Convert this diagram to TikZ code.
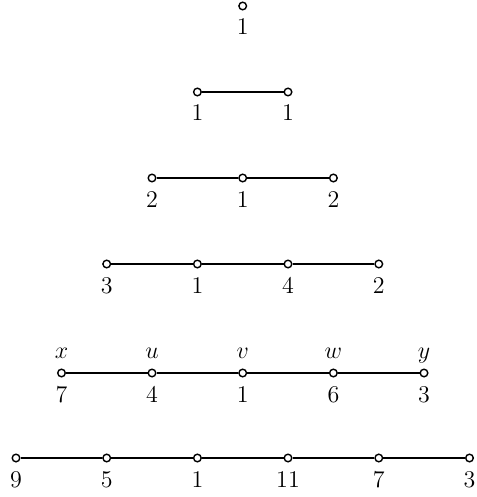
\documentclass[tikz,border=0pt]{standalone}
\begin{document}
\begin{tikzpicture}[x=0.5pt,y=-0.5pt,
  vtx/.style={circle,draw,line width=0.7pt,fill=white,inner sep=0pt,minimum size=3.8pt},
  edge/.style={line width=0.7pt},
  lab/.style={anchor=base,inner sep=0pt,font=\fontsize{12}{14}\selectfont}]
\useasboundingbox (0,0) rectangle (476,497);
% row coordinates
\def\ya{6}\def\yb{92}\def\yc{178}\def\yd{264}\def\ye{373}\def\yf{458}
% row 1
\node[vtx] (a1) at (242.7,\ya) {};
\node[lab] (la1) at (242.7,\ya+29) {1};
% row 2
\node[vtx] (b1) at (197.4,\yb) {};
\node[vtx] (b2) at (288.0,\yb) {};
\draw[edge] (b1) -- (b2);
\node[lab] (lb1) at (197.4,\yb+29) {1};
\node[lab] (lb2) at (288.0,\yb+29) {1};
% row 3
\node[vtx] (c1) at (152.0,\yc) {};
\node[vtx] (c2) at (242.7,\yc) {};
\node[vtx] (c3) at (333.4,\yc) {};
\draw[edge] (c1) -- (c2) -- (c3);
\node[lab] (lc1) at (152.0,\yc+29) {2};
\node[lab] (lc2) at (242.7,\yc+29) {1};
\node[lab] (lc3) at (333.4,\yc+29) {2};
% row 4
\node[vtx] (d1) at (106.7,\yd) {};
\node[vtx] (d2) at (197.4,\yd) {};
\node[vtx] (d3) at (288.0,\yd) {};
\node[vtx] (d4) at (378.8,\yd) {};
\draw[edge] (d1) -- (d2) -- (d3) -- (d4);
\node[lab] (ld1) at (106.7,\yd+29) {3};
\node[lab] (ld2) at (197.4,\yd+29) {1};
\node[lab] (ld3) at (288.0,\yd+29) {4};
\node[lab] (ld4) at (378.8,\yd+29) {2};
% row 5
\node[vtx] (e1) at (61.5,\ye) {};
\node[vtx] (e2) at (152.0,\ye) {};
\node[vtx] (e3) at (242.7,\ye) {};
\node[vtx] (e4) at (333.4,\ye) {};
\node[vtx] (e5) at (424.0,\ye) {};
\draw[edge] (e1) -- (e2) -- (e3) -- (e4) -- (e5);
\node[lab] (le1) at (61.5,\ye+29) {7};
\node[lab] (le2) at (152.0,\ye+29) {4};
\node[lab] (le3) at (242.7,\ye+29) {1};
\node[lab] (le4) at (333.4,\ye+29) {6};
\node[lab] (le5) at (424.0,\ye+29) {3};
\node[lab] (te1) at (61.5,\ye-15) {$x$};
\node[lab] (te2) at (152.0,\ye-15) {$u$};
\node[lab] (te3) at (242.7,\ye-15) {$v$};
\node[lab] (te4) at (333.4,\ye-15) {$w$};
\node[lab] (te5) at (424.0,\ye-15) {$y$};
% row 6
\node[vtx] (f1) at (16.0,\yf) {};
\node[vtx] (f2) at (106.7,\yf) {};
\node[vtx] (f3) at (197.4,\yf) {};
\node[vtx] (f4) at (288.0,\yf) {};
\node[vtx] (f5) at (378.8,\yf) {};
\node[vtx] (f6) at (469.5,\yf) {};
\draw[edge] (f1) -- (f2) -- (f3) -- (f4) -- (f5) -- (f6);
\node[lab] (lf1) at (16.0,\yf+29) {9};
\node[lab] (lf2) at (106.7,\yf+29) {5};
\node[lab] (lf3) at (197.4,\yf+29) {1};
\node[lab] (lf4) at (288.0,\yf+29) {11};
\node[lab] (lf5) at (378.8,\yf+29) {7};
\node[lab] (lf6) at (469.5,\yf+29) {3};
\end{tikzpicture}
\end{document}
